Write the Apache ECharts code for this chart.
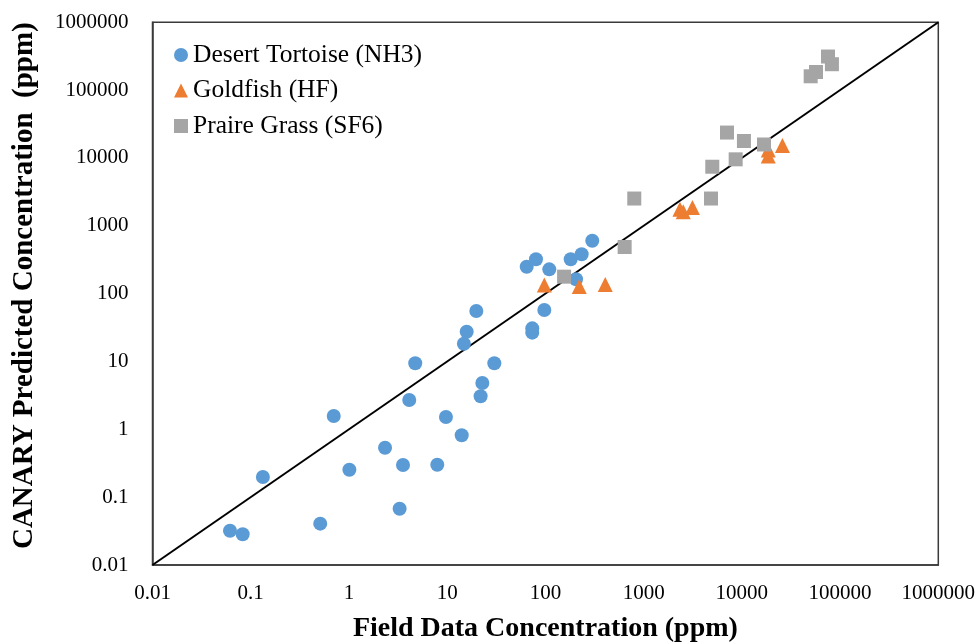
<!DOCTYPE html>
<html>
<head>
<meta charset="utf-8">
<script src="https://cdn.jsdelivr.net/npm/echarts@6/dist/echarts.min.js"></script>
<style>html,body{margin:0;padding:0;background:#fff}#c{width:980px;height:644px}</style>
</head>
<body>
<div id="c"></div>
<script>
// Desert Tortoise (NH3): [field, predicted]
const tortoiseX = [0.0615,0.0828,0.133,0.51,0.70,1.01,2.33,3.28,3.55,4.11,4.73,7.93,9.72,14.06,14.8,15.8,19.8,21.9,22.8,30.2,73.5,73.5,97.5,64.5,80.2,109.5,181,205,234,300];
const tortoiseY = [0.032,0.0284,0.198,0.0407,1.57,0.254,0.536,0.0676,0.298,2.71,9.4,0.30,1.52,0.817,18.3,27.5,55.5,3.07,4.82,9.4,30.8,26.6,57.4,249,321,228,321,163,380,603];
// Goldfish (HF)
const goldfishX = [97.5,221,407,2344,2533,3142,18580,18580,25900];
const goldfishY = [134,127,137,1751,1614,1862,13100,10700,15270];
// Praire Grass (SF6)
const grassX = [155,641,803,4850,5000,7060,8650,10500,16800,50200,56900,75300,82600];
const grassY = [178,487,2525,2525,7430,23700,9550,17800,15800,160000,185000,313000,241000];
// 1:1 reference line end points
const lineX = [0.01,1000000];
const lineY = [0.01,1000000];
const seriesNames = ['Desert Tortoise (NH3)','Goldfish (HF)','Praire Grass (SF6)'];
const xTitle = 'Field Data Concentration (ppm)';
const yTitle = 'CANARY Predicted Concentration  (ppm)';

const zip = (a,b)=>a.map((v,i)=>[v,b[i]]);
const fmt = v => String(Number(Number(v).toPrecision(6)));
const serif = '"Liberation Serif","Times New Roman",serif';

const chart = echarts.init(document.getElementById('c'));
chart.setOption({
  animation:false,
  backgroundColor:'#fff',
  grid:{left:152.5,right:41.7,top:22.3,bottom:79,outerBoundsMode:'none',containLabel:false,show:true,borderColor:'#3a3a3a',borderWidth:1.5,backgroundColor:'transparent'},
  legend:{
    data:[{name:seriesNames[0],icon:'circle'},{name:seriesNames[1],icon:'triangle'},{name:seriesNames[2],icon:'rect'}],
    orient:'vertical',left:169,top:37,itemWidth:14,itemHeight:14,itemGap:9.5,
    textStyle:{fontFamily:serif,fontSize:25.5,color:'#000',padding:0}
  },
  xAxis:{type:'log',logBase:10,min:0.01,max:1000000,
    name:xTitle,nameLocation:'middle',nameGap:50,
    nameTextStyle:{fontFamily:serif,fontSize:28,fontWeight:'bold',color:'#000'},
    axisLine:{show:true,lineStyle:{color:'#3a3a3a',width:1.5}},axisTick:{show:false},splitLine:{show:false},
    axisLabel:{formatter:fmt,fontFamily:serif,fontSize:21,color:'#000',margin:18}},
  yAxis:{type:'log',logBase:10,min:0.01,max:1000000,
    name:yTitle,nameLocation:'middle',nameGap:113,
    nameTextStyle:{fontFamily:serif,fontSize:29,fontWeight:'bold',color:'#000',padding:[0,0,0,16]},
    axisLine:{show:true,lineStyle:{color:'#3a3a3a',width:1.5}},axisTick:{show:false},splitLine:{show:false},
    axisLabel:{formatter:fmt,fontFamily:serif,fontSize:21,color:'#000',margin:24}},
  series:[
    {type:'line',data:zip(lineX,lineY),showSymbol:false,symbol:'none',lineStyle:{color:'#000',width:2},z:1,silent:true},
    {name:seriesNames[0],type:'scatter',symbol:'circle',symbolSize:14,data:zip(tortoiseX,tortoiseY),itemStyle:{color:'#5B9BD5',opacity:1},z:2},
    {name:seriesNames[1],type:'scatter',symbol:'triangle',symbolSize:15,data:zip(goldfishX,goldfishY),itemStyle:{color:'#ED7D31',opacity:1},z:3},
    {name:seriesNames[2],type:'scatter',symbol:'rect',symbolSize:14,data:zip(grassX,grassY),itemStyle:{color:'#A5A5A5',opacity:1},z:4}
  ]
});
</script>
</body>
</html>
